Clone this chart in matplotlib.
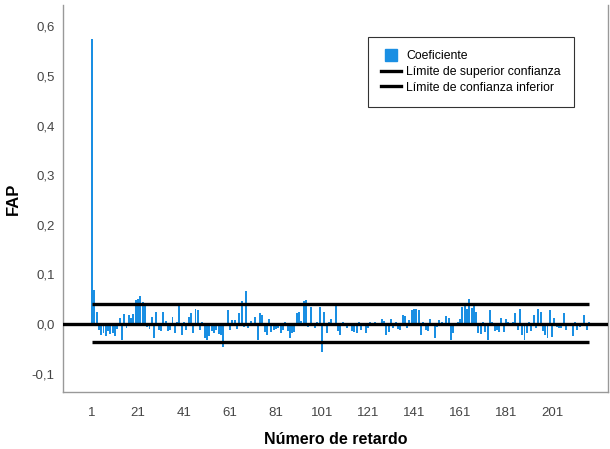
import numpy as np
import matplotlib.pyplot as plt
from matplotlib.lines import Line2D

plt.rcParams['font.family'] = ['Liberation Sans', 'DejaVu Sans']

# Partial autocorrelation coefficients, lags 1..217
fap = [
    0.575, 0.068, 0.025, -0.012, -0.022, -0.018, -0.024, -0.015, -0.021, -0.019,
    -0.025, -0.010, 0.013, -0.033, 0.021, -0.008, 0.018, 0.012, 0.020, 0.048,
    0.050, 0.057, 0.045, 0.040, -0.006, -0.010, 0.015, -0.029, 0.025, -0.012,
    -0.015, 0.024, 0.006, -0.015, -0.012, 0.015, -0.018, 0.005, 0.038, -0.022,
    0.004, -0.012, 0.014, 0.022, -0.019, 0.030, 0.028, -0.012, 0.004, -0.028,
    -0.033, -0.024, -0.015, -0.018, -0.012, -0.020, -0.022, -0.046, 0.003, 0.028,
    -0.012, 0.008, 0.009, -0.010, 0.023, 0.047, -0.007, 0.066, -0.008, 0.006,
    0.003, 0.015, -0.032, 0.022, 0.018, -0.016, -0.022, 0.010, -0.016, -0.012,
    -0.010, -0.008, -0.018, -0.013, 0.005, -0.015, -0.029, -0.019, -0.016, 0.023,
    0.024, 0.006, 0.047, 0.048, -0.006, 0.035, -0.004, -0.008, 0.004, 0.035,
    -0.057, 0.025, -0.018, 0.004, 0.010, -0.005, 0.038, -0.015, -0.022, 0.004,
    -0.003, -0.008, 0.002, -0.015, -0.016, -0.018, 0.004, -0.012, 0.003, -0.019,
    -0.009, 0.004, 0.002, 0.005, -0.003, 0.003, 0.010, 0.006, -0.022, -0.016,
    0.010, -0.009, 0.004, -0.010, -0.012, 0.018, 0.016, -0.009, 0.008, 0.028,
    0.031, 0.031, 0.028, -0.022, 0.004, -0.012, -0.015, 0.011, 0.003, -0.029,
    -0.006, 0.008, 0.004, 0.002, 0.016, 0.012, -0.032, -0.019, 0.003, 0.005,
    0.010, 0.035, 0.040, 0.030, 0.050, 0.032, 0.038, 0.025, -0.018, -0.020,
    0.004, -0.017, -0.032, 0.028, 0.004, -0.015, -0.012, -0.017, 0.013, -0.017,
    0.010, 0.004, -0.003, 0.005, 0.023, -0.012, 0.030, -0.022, -0.032, -0.019,
    0.004, -0.015, 0.018, -0.009, 0.031, 0.025, -0.015, -0.022, -0.028, 0.028,
    -0.027, 0.012, -0.006, -0.009, -0.009, 0.022, -0.012, -0.004, 0.003, -0.025,
    0.004, -0.012, -0.006, 0.003, 0.018, -0.012, 0.004,
]
lags = np.arange(1, len(fap) + 1)
upper_lim = 0.041
lower_lim = -0.036
xticks = list(range(1, 202, 20))
yticks = [-0.1, 0.0, 0.1, 0.2, 0.3, 0.4, 0.5, 0.6]

fig = plt.figure(figsize=(6.1, 4.49), dpi=100)
ax = fig.add_axes([0.1033, 0.127, 0.8934, 0.862])

bar_color = '#1a8fe3'
ax.bar(lags, fap, width=0.85, color=bar_color, linewidth=0)
ax.axhline(0, color='black', lw=2.4, zorder=3)
ax.plot([lags[0], lags[-1]], [upper_lim, upper_lim], color='black', lw=2.4, solid_capstyle='butt')
ax.plot([lags[0], lags[-1]], [lower_lim, lower_lim], color='black', lw=2.4, solid_capstyle='butt')

ax.set_xlim(-11.6, 225.3)
ax.set_ylim(-0.137, 0.643)
ax.set_xticks(xticks)
ax.set_yticks(yticks)
ax.set_yticklabels([f'{v:.1f}'.replace('.', ',') for v in yticks])
ax.tick_params(length=0, labelsize=9.5, colors='#444444', pad=6)
ax.tick_params(axis='x', pad=11)

ax.spines['top'].set_visible(False)
for side in ['left', 'bottom', 'right']:
    ax.spines[side].set_color('#999999')
    ax.spines[side].set_linewidth(1.0)

ax.set_ylabel('FAP', fontsize=12, fontweight='bold', labelpad=8)
ax.set_xlabel('Número de retardo', fontsize=11.5, fontweight='bold', labelpad=9)

handles = [
    Line2D([0], [0], color=bar_color, lw=0, marker='s', markersize=8),
    Line2D([0], [0], color='black', lw=2.4),
    Line2D([0], [0], color='black', lw=2.4),
]
labels = ['Coeficiente', 'Límite de superior confianza', 'Límite de confianza inferior']
leg = ax.legend(handles, labels, loc='upper left', bbox_to_anchor=(0.6033, 0.9176),
                bbox_transform=fig.transFigure, frameon=True, fancybox=False,
                fontsize=8.8, borderpad=1.1, handlelength=1.6, handletextpad=0.4,
                labelspacing=0.3, borderaxespad=0)
leg.get_frame().set_edgecolor('black')
leg.get_frame().set_linewidth(0.8)

fig.savefig('out.png', dpi=100)
